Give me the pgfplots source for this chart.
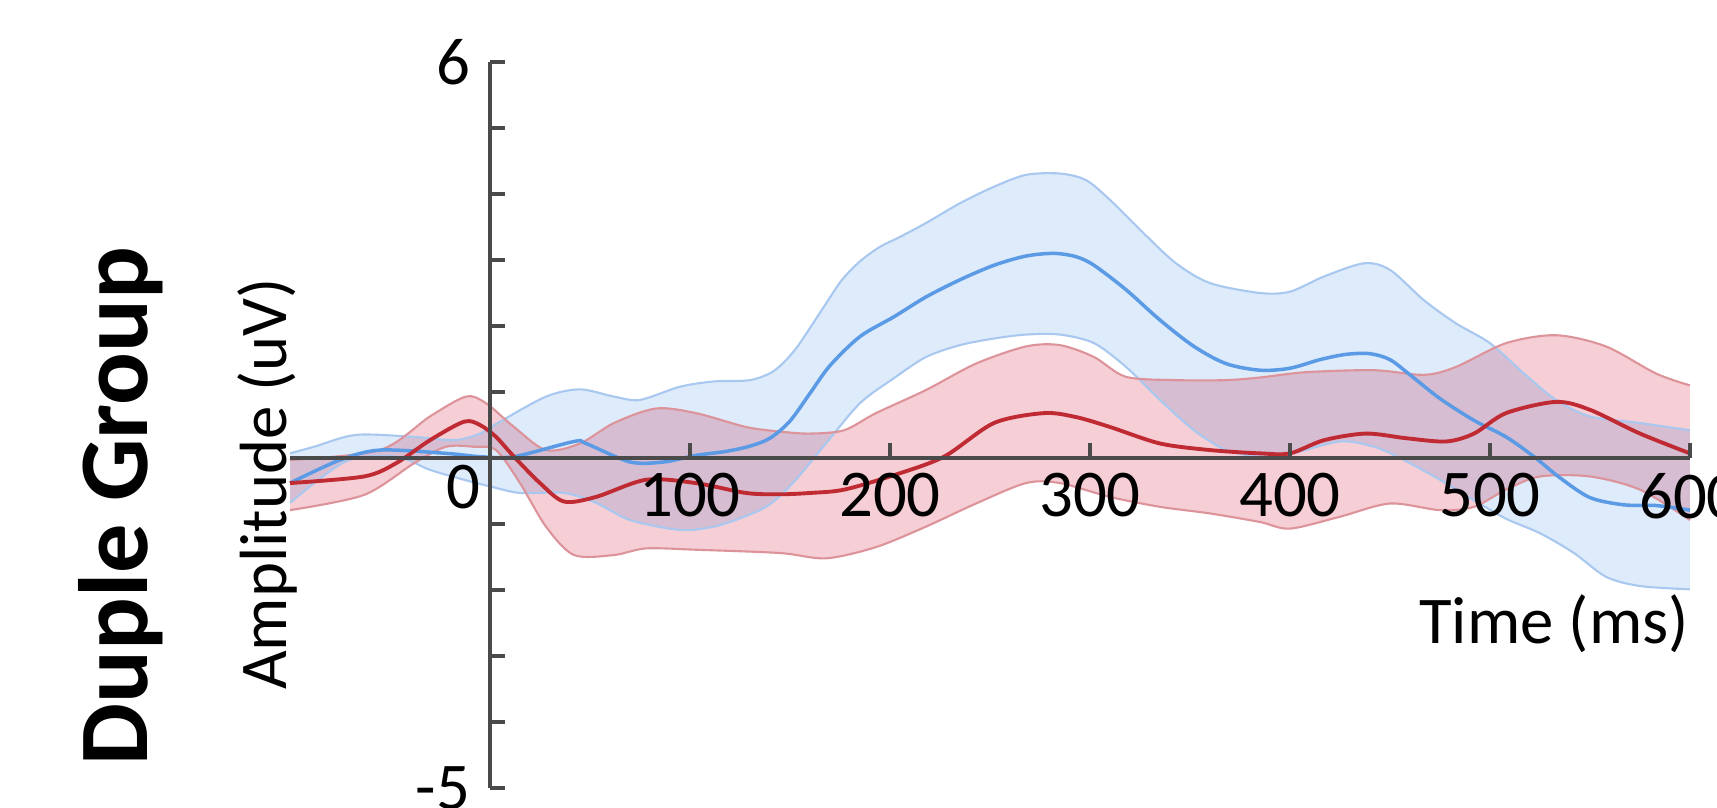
\documentclass[border=0pt]{standalone}
\usepackage{fontspec}
\setmainfont{Carlito}
\usepackage{pgfplots}
\pgfplotsset{compat=1.18}
\usepgfplotslibrary{fillbetween}

\definecolor{bline}{HTML}{5B9BE6}
\definecolor{bedge}{HTML}{A9C8F0}
\definecolor{bfill}{HTML}{DEEBFB}
\definecolor{rline}{HTML}{BF2A33}
\definecolor{redge}{HTML}{DC9399}
\definecolor{rfill}{HTML}{F6CED5}
\definecolor{axgray}{HTML}{4A4A4A}

\begin{document}
\begin{tikzpicture}
\begin{axis}[
  scale only axis, width=14cm, height=7.26cm,
  xmin=-100, xmax=600, ymin=-5, ymax=6,
  axis lines=center,
  axis line style={-, draw=axgray, line width=0.9pt},
  axis on top, clip=false,
  font=\fontsize{19}{22}\selectfont,
  /pgf/number format/assume math mode=true,
  hide obscured x ticks=false, hide obscured y ticks=false,
  xtick={100,200,...,600},
  ytick={-5,6},
  extra y ticks={-4,-3,-2,-1,1,2,3,4,5},
  extra y tick labels={},
  extra x ticks={0},
  extra x tick labels={0},
  extra x tick style={major tick length=0pt, xticklabel style={xshift=-0.27cm}},
  tick align=center,
  major tick length=0.15cm,
  tick style={axgray, line width=0.9pt},
  y tick style={xshift=0.075cm},
  x tick style={yshift=0.075cm},
  xticklabel style={yshift=0.05cm},
  xlabel={Time (ms)},
  xlabel style={at={(rel axis cs:1.008,0.226)}, anchor=east},
  ylabel={Amplitude (uV)},
  ylabel style={at={(rel axis cs:-0.016,0.419)}, anchor=center, rotate=90},
]
% blue group
\addplot[name path=bu, draw=bedge, line width=0.6pt, smooth] coordinates {
(-100,0.07) (-88,0.17) (-67,0.35) (-38,0.32) (-18,0.27) (-5,0.37) (5,0.55)
(28,0.93) (45,1.04) (62,0.93) (75,0.88) (95,1.08) (112,1.16) (130,1.18)
(142,1.32) (152,1.62) (160,1.97) (168,2.34) (176,2.70) (185,2.98) (195,3.20)
(205,3.35) (218,3.56) (235,3.86)
(252,4.11) (268,4.29) (285,4.31) (298,4.21) (310,3.91) (327,3.40) (343,2.95)
(360,2.65) (385,2.50) (400,2.52) (417,2.75) (437,2.95) (450,2.85) (467,2.39)
(483,2.04) (500,1.74) (517,1.28) (533,0.88) (550,0.63) (575,0.53) (600,0.42)};
\addplot[name path=bl, draw=bedge, line width=0.6pt, smooth] coordinates {
(-100,-0.68) (-72,-0.05) (-47,0.02) (-30,-0.18) (-13,-0.33) (0,-0.43)
(15,-0.53) (37,-0.53) (53,-0.68) (70,-0.94) (95,-1.09) (112,-1.04) (128,-0.88)
(140,-0.70) (152,-0.36) (168,0.22) (185,0.83) (202,1.21) (218,1.53) (235,1.71)
(252,1.81) (268,1.87) (285,1.87) (302,1.74) (318,1.38) (335,0.88) (352,0.42)
(368,0.12) (385,0.02) (400,0.06) (425,0.25) (442,0.17) (455,0.0) (475,-0.33)
(492,-0.64) (508,-0.92) (525,-1.14) (542,-1.44) (558,-1.80) (575,-1.94) (600,-1.99)};
\addplot[bfill] fill between[of=bu and bl];
% red group
\addplot[name path=ru, draw=redge, line width=0.6pt, smooth] coordinates {
(-100,-0.03) (-55,0.12) (-30,0.63) (-12,0.93) (-2,0.83) (12,0.47) (28,0.12)
(45,0.22) (62,0.53) (83,0.75) (103,0.68) (128,0.47) (145,0.40) (160,0.37)
(177,0.42) (193,0.68) (218,1.03) (243,1.43) (268,1.69) (285,1.71) (302,1.53)
(318,1.23) (343,1.18) (368,1.18) (385,1.22) (408,1.30) (442,1.33) (467,1.26)
(483,1.38) (508,1.74) (533,1.86) (558,1.69) (583,1.28) (600,1.1)};
\addplot[name path=rl, draw=redge, line width=0.6pt, smooth] coordinates {
(-100,-0.79) (-63,-0.56) (-38,-0.08) (-22,0.17) (-8,0.17) (3,0.12) (15,-0.38)
(28,-1.04) (42,-1.47) (62,-1.47) (78,-1.37) (103,-1.39) (145,-1.44) (168,-1.52)
(193,-1.35) (218,-1.04) (243,-0.69) (268,-0.38) (285,-0.38) (310,-0.59)
(335,-0.74) (360,-0.84) (385,-0.97) (400,-1.07) (425,-0.89) (450,-0.69)
(475,-0.79) (492,-0.74) (508,-0.48) (525,-0.28) (550,-0.28) (575,-0.48) (600,-0.94)};
\addplot[rfill, blend mode=multiply] fill between[of=ru and rl];
% means
\addplot[bline, line width=1.0pt, smooth] coordinates {
(-100,-0.38) (-75,-0.03) (-55,0.12) (-22,0.07) (-5,0.02) (12,0.02) (42,0.25)
(48,0.22) (70,-0.06) (87,-0.06) (103,0.04) (118,0.10) (130,0.18) (140,0.30)
(150,0.56) (160,0.98) (170,1.40) (185,1.84) (202,2.14) (218,2.44) (235,2.70)
(252,2.92) (268,3.06) (282,3.10) (293,3.05) (302,2.92) (318,2.55) (335,2.09)
(352,1.69) (368,1.43) (385,1.33) (400,1.36) (415,1.49) (428,1.57) (440,1.58)
(450,1.49) (460,1.26) (475,0.90) (492,0.57) (508,0.32) (522,0.02) (535,-0.30)
(550,-0.60) (567,-0.71) (583,-0.72) (600,-0.79)};
\addplot[rline, line width=1.1pt, smooth] coordinates {
(-100,-0.38) (-63,-0.28) (-47,-0.08) (-30,0.27) (-13,0.55) (-5,0.50) (3,0.32)
(12,0.02) (25,-0.38) (37,-0.66) (53,-0.59) (78,-0.33) (103,-0.38) (128,-0.53)
(145,-0.55) (160,-0.53) (177,-0.48) (202,-0.26) (227,0.02) (252,0.53) (277,0.68)
(293,0.62) (310,0.47) (335,0.22) (360,0.12) (385,0.07) (400,0.07) (417,0.27)
(438,0.37) (458,0.30) (478,0.25) (492,0.37) (508,0.68) (533,0.85) (550,0.73)
(575,0.37) (600,0.07)};
\node[rotate=90, font=\fontsize{28}{32}\selectfont\bfseries] at (rel axis cs:-0.121,0.388) {Duple Group};
\end{axis}
\pgfresetboundingbox
\useasboundingbox (-2.9cm,-0.2cm) rectangle (14.27cm,7.88cm);
\end{tikzpicture}
\end{document}
